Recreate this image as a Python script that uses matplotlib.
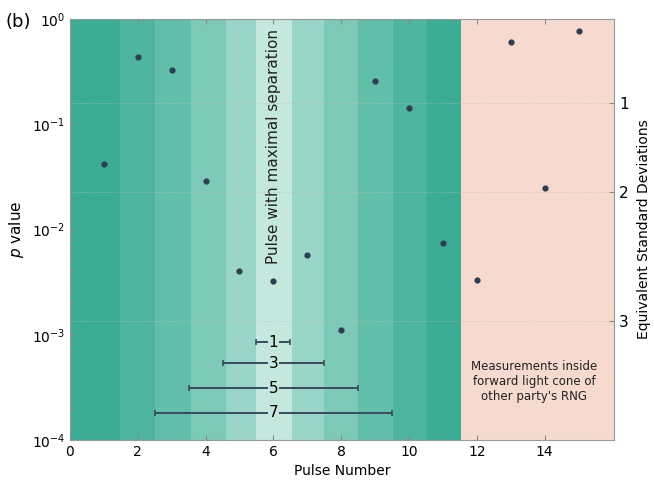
import numpy as np
import matplotlib.pyplot as plt

# p values per pulse
pulse = [1, 2, 3, 4, 5, 6, 7, 8, 9, 10, 11, 12, 13, 14, 15]
p_val = [0.0419, 0.435, 0.328, 0.0289, 0.00403, 0.00324, 0.00573, 0.00111,
         0.257, 0.143, 0.00744, 0.00331, 0.604, 0.0248, 0.769]

# shaded bands around the central pulse
band_edges = [0, 1.47, 2.51, 3.56, 4.6, 5.5, 6.55, 7.48, 8.5, 9.53, 10.52, 11.52]
band_colors = ['#3aad93', '#4db59d', '#61bea9', '#7bc9b6', '#9ad6c7', '#c4e7de',
               '#9ad6c7', '#7bc9b6', '#61bea9', '#4db59d', '#3aad93']

# window bars
win_sizes = [1, 3, 5, 7]
win_p = [8.5e-4, 5.35e-4, 3.1e-4, 1.82e-4]

# one-sided sigma equivalents
sigma_labels = ['1', '2', '3']
sigma_p = [0.1587, 0.02275, 0.00135]

fig = plt.figure(figsize=(6.54, 4.87), dpi=100)
ax = fig.add_axes([0.107, 0.0965, 0.832, 0.8645])

for i in range(len(band_colors)):
    ax.axvspan(band_edges[i], band_edges[i + 1], color=band_colors[i], lw=0, zorder=0)
ax.axvspan(band_edges[-1], 16.05, color='#f6dacf', lw=0, zorder=0)

for sp in sigma_p:
    ax.axhline(sp, color='#c0c0c0', lw=0.5, ls=':', zorder=1)

ax.scatter(pulse, p_val, s=12, color='#2e3e52', zorder=3)

dark = '#3a4a5e'
for w, yp in zip(win_sizes, win_p):
    ax.errorbar(6, yp, xerr=w / 2, fmt='none', ecolor=dark, elinewidth=1.4,
                capsize=2.5, capthick=1.2, zorder=3)
    ax.text(6, yp, str(w), ha='center', va='center', fontsize=11, zorder=4,
            bbox=dict(facecolor='#c4e7de', edgecolor='none', pad=0.5))

ax.text(6, 0.0047, 'Pulse with maximal separation', rotation=90,
        ha='center', va='bottom', fontsize=11, color='#222222')
ax.text(13.7, 3.56e-4, "Measurements inside\nforward light cone of\nother party's RNG",
        ha='center', va='center', fontsize=8.5, color='#222222')

ax.set_yscale('log')
ax.set_ylim(1e-4, 1)
ax.set_xlim(0, 16.05)
ax.set_xticks([0, 2, 4, 6, 8, 10, 12, 14])
ax.set_xlabel('Pulse Number', fontsize=10)
ax.set_ylabel('$p$ value', fontsize=11)
ax.tick_params(direction='in', top=True, which='both', colors='#888888',
               labelcolor='black', labelsize=10)
ax.tick_params(axis='y', right=False, which='both')
for s in ax.spines.values():
    s.set_color('#999999')

ax2 = ax.twinx()
ax2.set_yscale('log')
ax2.set_ylim(1e-4, 1)
ax2.set_yticks(sigma_p)
ax2.set_yticklabels(sigma_labels)
ax2.minorticks_off()
ax2.tick_params(direction='in', colors='#888888', labelcolor='black', labelsize=11)
ax2.set_ylabel('Equivalent Standard Deviations', fontsize=10, labelpad=6)
for s in ax2.spines.values():
    s.set_visible(False)

fig.text(0.008, 0.945, '(b)', fontsize=13)

fig.savefig('out.png', dpi=100)
